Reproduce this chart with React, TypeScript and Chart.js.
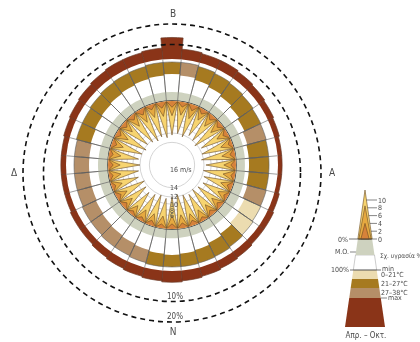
import React, { useEffect, useRef } from 'react';
import { Chart, registerables, RadialLinearScale } from 'chart.js';
Chart.register(...registerables);

// square-root radial scale (equal-area rings), used for wind speed
class RadialSqrtScale extends (RadialLinearScale as any) {
  static id = 'radialSqrt';
  static defaults = (RadialLinearScale as any).defaults;
  static defaultRoutes = (RadialLinearScale as any).defaultRoutes;
  static descriptors = (RadialLinearScale as any).descriptors;
  getDistanceFromCenterForValue(value: number) {
    if (value === null || value === undefined || isNaN(value)) return NaN;
    const span = this.max - this.min;
    const f = this.options.reverse ? (this.max - value) / span : (value - this.min) / span;
    return this.drawingArea * Math.sqrt(Math.max(f, 0));
  }
}
Chart.register(RadialSqrtScale as any);

// ---------- data ----------
const directions = ['0°','10°','20°','30°','40°','50°','60°','70°','80°','90°','100°','110°','120°','130°','140°','150°','160°','170°','180°','190°','200°','210°','220°','230°','240°','250°','260°','270°','280°','290°','300°','310°','320°','330°','340°','350°'];
// frequency of wind direction, %
const frequency = [10.5, 5, 4.5, 4.5, 4, 3.5, 3, 2.5, 2, 2, 2, 2.5, 3, 3, 3.5, 4, 4.5, 5, 5.5, 5, 4.5, 4, 3.5, 3, 3, 2.5, 2.5, 2.5, 2.5, 3, 3.5, 4, 4.5, 5, 5, 5.5];
// mean relative humidity, %
const humidityMean = [33, 33, 33, 33, 34, 34, 35, 35, 34, 33, 34, 36, 38, 38, 36, 35, 34, 34, 34, 35, 35, 36, 36, 36, 37, 37, 37, 37, 36, 35, 35, 34, 34, 33, 33, 33];
// temperature range per direction, °C
const temperatureMin = [26.3, 25.3, 23.4, 21.4, 19.5, 17.5, 15.6, 13.6, 12.7, 12.7, 12.7, 13.6, 15.6, 17.5, 19.5, 21.4, 23.4, 24.4, 25.3, 24.4, 23.4, 22.4, 21.4, 20.5, 19.5, 18.5, 18.5, 18.5, 18.5, 19.5, 20.5, 21.4, 22.4, 23.4, 24.4, 25.3];
const temperatureMax = [38, 38, 37, 36.1, 35.1, 34.1, 33.1, 32.7, 32.2, 32.2, 32.2, 32.7, 33.1, 34.1, 35.1, 36.1, 36.6, 37, 37, 37, 36.1, 35.1, 35.1, 34.1, 34.1, 33.1, 33.1, 33.1, 33.1, 34.1, 34.1, 35.1, 36.1, 36.6, 37, 38];
// temperature class: 0 = 0–21°C, 1 = 21–27°C, 2 = 27–38°C
const temperatureClass = [1, 2, 1, 1, 1, 1, 1, 2, 1, 1, 1, 2, 0, 0, 1, 1, 1, 1, 1, 1, 2, 2, 2, 2, 2, 2, 2, 2, 2, 1, 1, 1, 1, 1, 1, 1];
// wind speed, m/s
const speedMax = [12.5, 12, 12.5, 11.5, 12, 12.5, 11.5, 12, 12.5, 11.5, 12, 11.5, 11, 11.5, 12, 11.5, 12, 12.5, 12, 11.5, 12, 11.5, 11, 11.5, 12, 11, 11.5, 12, 11.5, 12, 12.5, 12, 12.5, 13, 12.5, 13];
const speedMean = [6.5, 6, 6.5, 5.5, 6, 6, 5.5, 5.5, 6, 5.5, 5.5, 5.5, 5, 5.5, 5.5, 5.5, 5.5, 6, 6, 5.5, 5.5, 5.5, 5, 5.5, 5.5, 5, 5.5, 5.5, 5.5, 5.5, 6, 5.5, 6, 6.5, 6, 6.5];
const speedMin = [3, 2.5, 3, 2.5, 2.5, 2.5, 2.5, 2, 2.5, 2.5, 2, 2.5, 2, 2.5, 2.5, 2, 2.5, 2.5, 2.5, 2, 2.5, 2, 2, 2.5, 2.5, 2, 2, 2.5, 2, 2.5, 2.5, 2.5, 2.5, 3, 2.5, 3];

const speedTicks = [16, 14, 12, 10, 8, 6];
const frequencyTicks = [10, 20];
const compassLabels = ['Β', 'Α', 'Ν', 'Δ'];
const compassAngles = [0, 90, 180, 270];
const legendSpeedTicks = [10, 8, 6, 4, 2, 0];
const temperatureLabels = ['0–21°C', '21–27°C', '27–38°C'];

// ---------- style ----------
const FONT = "'DejaVu Sans Condensed', 'DejaVu Sans', sans-serif";
const TEXT = '#4a4a4a';
const BROWN = '#8a3418';
const GRAY = '#ced2bf';
const TEMP_COLORS = ['#ecdcb0', '#a67a20', '#b58f68'];
const YELLOW = '#f7d470';
const GOLD = '#e6a940';
const ORANGE = '#d6823a';
const LINE = '#5e5e5e';

// geometry (pixels)
const RC = { x: 172, y: 165 };      // rose centre
const SC = { x: 172, y: 173 };      // frequency scale centre
const R_SPIKE = 64;                 // 0 m/s, 0 %, 0 °C
const R_HUM = 91;                   // 100 % humidity
const R_GAP = 106;                  // base of frequency bars
const PX_PER_PCT = 2.05;
const PX_PER_DEG = 1.026;

const base: any = {
  responsive: false,
  animation: false,
  events: [],
  plugins: { legend: { display: false }, tooltip: { enabled: false } },
};

function Layer({ cx, cy, r, make, style }: { cx: number; cy: number; r: number; make: () => any; style?: any }) {
  const ref = useRef<HTMLCanvasElement>(null);
  useEffect(() => {
    const chart = new Chart(ref.current as HTMLCanvasElement, make());
    return () => chart.destroy();
  }, []);
  return (
    <canvas
      ref={ref}
      width={2 * r}
      height={2 * r}
      style={{ position: 'absolute', left: cx - r, top: cy - r, width: 2 * r, height: 2 * r, ...style }}
    />
  );
}

const hiddenScale = { ticks: { display: false }, grid: { display: false }, angleLines: { display: false }, pointLabels: { display: false } };

// brown frequency bars
const R_BROWN = 140;
const brownMin = -R_GAP / PX_PER_PCT;
const brownMax = brownMin + R_BROWN / PX_PER_PCT;
const makeBrown = () => ({
  type: 'polarArea',
  data: {
    labels: directions,
    datasets: [{ data: frequency, backgroundColor: BROWN, borderColor: '#6a3a26', borderWidth: 0.7 }],
  },
  options: {
    ...base,
    scales: { r: { ...hiddenScale, min: brownMin, max: brownMax, startAngle: -5 } },
  },
});

// temperature ring (floating: white up to min, colour up to max), white disc up to bar base
const tempMin = -R_SPIKE / PX_PER_DEG;
const tempMax = tempMin + R_GAP / PX_PER_DEG;
const makeTemp = () => ({
  type: 'polarArea',
  data: {
    labels: directions,
    datasets: [
      { data: temperatureMin, backgroundColor: '#ffffff', borderWidth: 0 },
      { data: temperatureMax, backgroundColor: temperatureClass.map((c) => TEMP_COLORS[c]), borderColor: LINE, borderWidth: 0.6 },
    ],
  },
  options: {
    ...base,
    scales: {
      r: {
        ...hiddenScale, min: tempMin, max: tempMax, startAngle: -5,
        grid: { display: false, z: 1 },
        angleLines: { display: true, color: LINE, lineWidth: 0.6 },
      },
    },
  },
});

// humidity (grey up to mean)
const humPx = (R_HUM - R_SPIKE) / 100;
const humMin = -R_SPIKE / humPx;
const makeHum = () => ({
  type: 'polarArea',
  data: {
    labels: directions,
    datasets: [{ data: humidityMean, backgroundColor: GRAY, borderWidth: 0 }],
  },
  options: {
    ...base,
    scales: {
      r: {
        ...hiddenScale, min: humMin, max: 100, startAngle: -5,
        afterBuildTicks: (s: any) => { s.ticks = [{ value: 0 }]; },
        grid: { display: true, circular: true, color: '#3a3a3a', lineWidth: 1.4, z: 1 },
        angleLines: { display: true, color: LINE, lineWidth: 0.6 },
      },
    },
  },
});

// wind speed spikes
const spikeLabels = directions.flatMap((d) => ['', d]);
const spikeData = (arr: number[]) => arr.flatMap((v) => [0, v]);
const speedLabelPlugin = {
  id: 'speedLabels',
  afterDatasetsDraw(chart: any) {
    const s = chart.scales.r;
    const ctx = chart.ctx;
    ctx.save();
    ctx.font = `7px ${FONT}`;
    ctx.fillStyle = TEXT;
    ctx.textAlign = 'left';
    ctx.textBaseline = 'middle';
    speedTicks.forEach((v, i) => {
      const d = s.getDistanceFromCenterForValue(v);
      ctx.fillText(i === 0 ? `${v} m/s` : `${v}`, s.xCenter - 2, s.yCenter + Math.max(d, 5) + 0.5);
    });
    ctx.restore();
  },
};
const spikeSet = (arr: number[], color: string) => ({
  data: spikeData(arr), backgroundColor: color, borderColor: '#6a4a22', borderWidth: 0.6,
  fill: 'end', pointRadius: 0, tension: 0,
});
const makeSpikes = () => ({
  type: 'radar',
  data: {
    labels: spikeLabels,
    datasets: [spikeSet(speedMin, ORANGE), spikeSet(speedMean, GOLD), spikeSet(speedMax, YELLOW)],
  },
  options: {
    ...base,
    scales: {
      r: {
        type: 'radialSqrt',
        reverse: true, min: 0, max: 16, startAngle: -5,
        ticks: { display: false, stepSize: 2 },
        grid: { circular: true, color: '#c9c9c9', lineWidth: 0.8 },
        angleLines: { display: false },
        pointLabels: { display: false },
      },
    },
  },
  plugins: [speedLabelPlugin],
});

// frequency scale circles + compass labels
const R_SCALE = 173;
const scaleMin = -(128.5 - 10 * PX_PER_PCT) / PX_PER_PCT;
const scaleMax = scaleMin + R_SCALE / PX_PER_PCT;
const scaleLabelPlugin = {
  id: 'scaleLabels',
  afterDraw(chart: any) {
    const s = chart.scales.r;
    const ctx = chart.ctx;
    ctx.save();
    ctx.fillStyle = TEXT;
    ctx.textAlign = 'center';
    ctx.textBaseline = 'middle';
    ctx.font = `8px ${FONT}`;
    frequencyTicks.forEach((v) => {
      const d = s.getDistanceFromCenterForValue(v);
      ctx.fillText(`${v}%`, s.xCenter + 3, s.yCenter + d - 5);
    });
    ctx.font = `10px ${FONT}`;
    const dl = s.getDistanceFromCenterForValue(frequencyTicks[frequencyTicks.length - 1]) + 10;
    compassLabels.forEach((t, i) => {
      const a = (compassAngles[i] * Math.PI) / 180;
      ctx.fillText(t, s.xCenter + Math.sin(a) * dl + 1, s.yCenter - Math.cos(a) * dl);
    });
    ctx.restore();
  },
};
const makeScale = () => ({
  type: 'radar',
  data: { labels: directions, datasets: [] },
  options: {
    ...base,
    scales: {
      r: {
        min: scaleMin, max: scaleMax, startAngle: 0,
        afterBuildTicks: (s: any) => { s.ticks = frequencyTicks.map((v) => ({ value: v })); },
        ticks: { display: false },
        grid: { circular: true, color: '#111', lineWidth: 1.6, borderDash: [5, 4], z: 1 },
        border: { dash: [5, 4] },
        angleLines: { display: false },
        pointLabels: { display: false },
      },
    },
  },
  plugins: [scaleLabelPlugin],
});

// ---------- legend (diagram key) ----------
const LX = 365;
const LTIP = 190;
const LSLOPE = 0.146;
const hw = (y: number) => (y - LTIP) * LSLOPE;
const band = (y1: number, y2: number) =>
  `${LX - hw(y1)},${y1} ${LX + hw(y1)},${y1} ${LX + hw(y2)},${y2} ${LX - hw(y2)},${y2}`;
const L0 = 239;
const LPX = 3.9;

function Legend() {
  const t = { fontFamily: FONT, fontSize: 7, fill: TEXT } as any;
  return (
    <svg width={420} height={342} style={{ position: 'absolute', left: 0, top: 0 }}>
      <polygon points={band(298, 327)} fill={BROWN} />
      <polygon points={band(288, 298)} fill={TEMP_COLORS[2]} />
      <polygon points={band(279, 288)} fill={TEMP_COLORS[1]} />
      <polygon points={band(270, 279)} fill={TEMP_COLORS[0]} />
      <polygon points={band(255, 270)} fill="#fff" stroke="#999" strokeWidth={0.5} />
      <polygon points={band(L0, 255)} fill={GRAY} />
      <polygon points={`${LX},${LTIP} ${LX - hw(L0)},${L0} ${LX + hw(L0)},${L0}`} fill={YELLOW} stroke="#6a4a22" strokeWidth={0.6} />
      <polygon points={`${LX},${L0 - 8.5 * LPX} ${LX - hw(L0) + 1},${L0} ${LX + hw(L0) - 1},${L0}`} fill={GOLD} stroke="#6a4a22" strokeWidth={0.6} />
      <polygon points={`${LX},${L0 - 4 * LPX} ${LX - hw(L0) + 3},${L0} ${LX + hw(L0) - 3},${L0}`} fill={ORANGE} stroke="#6a4a22" strokeWidth={0.6} />
      {legendSpeedTicks.map((v) => {
        const y = L0 - v * LPX;
        return (
          <g key={v}>
            <line x1={LX + hw(y)} y1={y} x2={377} y2={y} stroke="#333" strokeWidth={0.6} />
            <text {...t} x={378} y={y + 2.5}>{v}</text>
          </g>
        );
      })}
      <line x1={349} y1={L0} x2={LX + hw(L0)} y2={L0} stroke="#333" strokeWidth={0.7} />
      <line x1={350} y1={252} x2={LX - hw(252)} y2={252} stroke="#333" strokeWidth={0.6} />
      <line x1={350} y1={270} x2={381} y2={270} stroke="#333" strokeWidth={0.7} />
      <line x1={LX + hw(298)} y1={298} x2={387} y2={298} stroke="#333" strokeWidth={0.6} />
      <text {...t} x={348} y={L0 + 2.5} textAnchor="end">0%</text>
      <text {...t} x={349} y={254} textAnchor="end">M.O.</text>
      <text {...t} x={349} y={272} textAnchor="end">100%</text>
      <text {...t} x={380} y={258} fontSize={6.5}>Σχ. υγρασία %</text>
      <text {...t} x={382} y={271}>min</text>
      <text {...t} x={381} y={277}>{temperatureLabels[0]}</text>
      <text {...t} x={381} y={286}>{temperatureLabels[1]}</text>
      <text {...t} x={381} y={295}>{temperatureLabels[2]}</text>
      <text {...t} x={388} y={300}>max</text>
      <text {...t} x={366} y={338} textAnchor="middle" fontSize={8}>Απρ. – Οκτ.</text>
    </svg>
  );
}

export default function App() {
  return (
    <div style={{ position: 'absolute', left: 0, top: 0, width: 420, height: 342, background: '#fff', overflow: 'hidden' }}>
      <Layer cx={RC.x} cy={RC.y} r={R_BROWN} make={makeBrown} />
      <Layer cx={RC.x} cy={RC.y} r={R_GAP} make={makeTemp} style={{ background: '#fff', borderRadius: '50%' }} />
      <Layer cx={RC.x} cy={RC.y} r={R_HUM} make={makeHum} />
      <Layer cx={RC.x} cy={RC.y} r={R_SPIKE} make={makeSpikes} style={{ background: '#fff', borderRadius: '50%' }} />
      <Layer cx={SC.x} cy={SC.y} r={R_SCALE} make={makeScale} />
      <Legend />
    </div>
  );
}
